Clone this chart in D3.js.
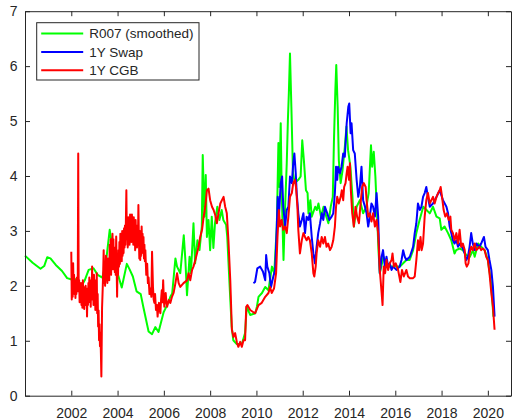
<!DOCTYPE html>
<html>
<head>
<meta charset="utf-8">
<script src="https://cdn.jsdelivr.net/npm/d3@7"></script>
<style>
  body { margin: 0; background: #fff; }
  svg text { font-family: "Liberation Sans", Arial, Helvetica, sans-serif; fill: #262626; }
</style>
</head>
<body>
<div id="chart"></div>
<script>
// R007 (smoothed), [decimal year, %]
const r007 = [
  [2000.00,2.55],[2000.33,2.42],[2000.67,2.31],[2000.83,2.36],[2000.96,2.52],[2001.10,2.50],
  [2001.33,2.38],[2001.60,2.27],[2001.82,2.14],[2001.98,2.12],[2002.23,2.12],[2002.39,1.96],
  [2002.58,2.10],[2002.75,2.29],[2002.96,2.32],[2003.14,2.20],[2003.34,2.15],[2003.49,2.40],
  [2003.66,3.02],[2003.76,2.75],[2003.96,2.29],[2004.18,1.97],[2004.40,2.40],[2004.52,2.30],
  [2004.66,2.17],[2004.82,1.90],[2005.00,1.85],[2005.12,1.60],[2005.34,1.17],[2005.49,1.12],
  [2005.63,1.25],[2005.77,1.16],[2005.99,1.52],[2006.14,1.65],[2006.28,1.80],[2006.36,1.86],
  [2006.50,2.50],[2006.57,2.35],[2006.71,2.23],[2006.86,2.92],[2006.93,2.47],[2007.00,1.83],
  [2007.11,2.53],[2007.17,2.23],[2007.28,3.14],[2007.35,2.41],[2007.45,2.83],[2007.54,2.65],
  [2007.64,3.08],[2007.68,4.38],[2007.75,3.26],[2007.81,4.02],[2007.86,2.89],[2007.93,3.20],
  [2008.00,2.65],[2008.07,3.26],[2008.14,2.69],[2008.21,3.14],[2008.31,3.44],[2008.40,3.20],
  [2008.50,3.38],[2008.57,3.20],[2008.69,3.11],[2008.74,2.89],[2008.83,2.10],[2008.93,1.26],
  [2009.00,1.01],[2009.15,0.94],[2009.37,0.94],[2009.51,1.14],[2009.58,1.62],[2009.73,1.47],
  [2009.95,1.50],[2010.02,1.62],[2010.09,1.80],[2010.24,1.87],[2010.38,1.98],[2010.52,1.92],
  [2010.67,2.35],[2010.77,2.23],[2010.88,3.08],[2010.95,4.60],[2010.99,3.80],[2011.05,4.96],
  [2011.09,3.74],[2011.17,2.47],[2011.24,3.44],[2011.31,4.23],[2011.36,5.02],[2011.40,5.50],
  [2011.45,6.23],[2011.51,5.26],[2011.58,4.05],[2011.66,3.87],[2011.81,3.93],[2011.91,3.99],
  [2011.98,4.65],[2012.05,4.29],[2012.14,3.74],[2012.21,3.69],[2012.25,3.32],[2012.33,3.56],
  [2012.39,3.26],[2012.54,3.44],[2012.61,3.38],[2012.68,3.50],[2012.79,3.26],[2012.90,3.44],
  [2013.02,3.26],[2013.11,3.14],[2013.21,3.44],[2013.30,3.62],[2013.35,4.65],[2013.41,5.56],
  [2013.45,6.02],[2013.51,5.26],[2013.56,4.29],[2013.64,3.87],[2013.72,4.10],[2013.82,4.53],
  [2013.89,4.90],[2013.96,4.47],[2014.06,4.17],[2014.15,3.62],[2014.21,3.08],[2014.33,3.44],
  [2014.47,3.56],[2014.61,3.32],[2014.75,3.44],[2014.85,3.69],[2014.95,4.56],[2015.00,4.17],
  [2015.07,4.44],[2015.14,3.99],[2015.21,3.32],[2015.28,2.60],[2015.33,2.23],[2015.49,2.53],
  [2015.62,2.41],[2015.76,2.35],[2015.98,2.35],[2016.20,2.35],[2016.34,2.41],[2016.48,2.47],
  [2016.62,2.47],[2016.77,2.65],[2016.91,2.96],[2017.05,3.20],[2017.21,3.44],[2017.35,3.38],
  [2017.49,3.32],[2017.63,3.44],[2017.78,3.26],[2017.92,3.23],[2017.99,3.02],[2018.13,3.08],
  [2018.28,2.96],[2018.42,2.83],[2018.56,2.59],[2018.63,2.65],[2018.78,2.68],[2018.92,2.65],
  [2019.07,2.56],[2019.22,2.53],[2019.36,2.65],[2019.43,2.53],[2019.58,2.77],[2019.72,2.71],
  [2019.86,2.65],[2020.00,2.47],[2020.14,2.05],[2020.24,1.44]
];

// 1Y Swap
const swap1y = [
  [2009.87,2.05],[2009.94,2.07],[2010.04,2.32],[2010.16,2.35],[2010.28,2.26],[2010.38,2.10],
  [2010.42,2.56],[2010.47,2.35],[2010.56,2.23],[2010.63,1.98],[2010.73,2.17],[2010.81,2.29],
  [2010.88,3.08],[2010.92,3.62],[2010.98,3.32],[2011.05,3.87],[2011.11,3.99],[2011.16,3.44],
  [2011.24,3.08],[2011.31,3.38],[2011.38,3.44],[2011.45,3.99],[2011.53,3.87],[2011.59,4.23],
  [2011.64,4.41],[2011.70,4.05],[2011.74,3.69],[2011.81,3.32],[2011.88,3.08],[2011.96,3.20],
  [2012.03,3.32],[2012.10,2.96],[2012.17,3.26],[2012.24,3.20],[2012.31,3.32],[2012.39,2.89],
  [2012.46,2.59],[2012.53,2.41],[2012.60,2.71],[2012.67,2.96],[2012.75,3.14],[2012.82,3.32],
  [2012.89,3.20],[2012.96,3.44],[2013.06,3.32],[2013.15,3.20],[2013.25,3.26],[2013.32,3.32],
  [2013.39,3.69],[2013.44,4.17],[2013.49,3.93],[2013.53,4.17],[2013.61,4.05],[2013.68,4.17],
  [2013.75,4.41],[2013.82,4.35],[2013.90,4.96],[2013.97,5.26],[2014.01,5.32],[2014.07,4.78],
  [2014.11,4.96],[2014.18,4.47],[2014.25,4.41],[2014.33,3.93],[2014.40,3.62],[2014.47,3.80],
  [2014.54,4.17],[2014.61,3.56],[2014.69,3.44],[2014.76,3.32],[2014.83,3.08],[2014.90,3.26],
  [2014.97,3.50],[2015.04,3.44],[2015.12,3.26],[2015.19,3.69],[2015.26,3.26],[2015.33,2.23],
  [2015.41,2.53],[2015.47,2.65],[2015.55,2.35],[2015.62,2.53],[2015.69,2.35],[2015.76,2.41],
  [2015.84,2.29],[2015.91,2.35],[2016.05,2.29],[2016.19,2.35],[2016.27,2.47],[2016.34,2.65],
  [2016.41,2.53],[2016.48,2.47],[2016.63,2.53],[2016.77,2.71],[2016.84,2.96],[2016.91,3.14],
  [2016.98,3.50],[2017.06,3.38],[2017.13,3.44],[2017.20,3.62],[2017.27,3.69],[2017.34,3.80],
  [2017.41,3.62],[2017.49,3.44],[2017.63,3.50],[2017.78,3.62],[2017.92,3.74],[2018.06,3.56],
  [2018.21,3.44],[2018.28,3.32],[2018.35,3.08],[2018.42,2.96],[2018.49,2.83],[2018.56,2.77],
  [2018.64,2.83],[2018.71,2.71],[2018.78,2.77],[2018.92,2.68],[2019.00,2.59],[2019.07,2.47],
  [2019.14,2.53],[2019.21,2.71],[2019.28,2.96],[2019.35,2.77],[2019.43,2.65],[2019.50,2.77],
  [2019.64,2.71],[2019.71,2.77],[2019.83,2.89],[2019.90,2.71],[2020.00,2.65],[2020.07,2.47],
  [2020.15,2.29],[2020.22,1.98],[2020.29,1.44]
];

// 1Y CGB
const cgb1y = [
  [2002.00,2.62],[2002.02,1.75],[2002.04,2.25],[2002.06,1.80],[2002.08,2.41],[2002.10,1.95],
  [2002.12,2.20],[2002.14,1.85],[2002.16,2.10],[2002.18,1.78],[2002.20,2.05],[2002.22,1.85],
  [2002.24,2.15],[2002.26,1.90],[2002.28,2.05],[2002.30,4.41],[2002.32,1.90],[2002.34,2.10],
  [2002.36,1.70],[2002.38,1.95],[2002.40,1.80],[2002.42,2.05],[2002.44,1.65],[2002.46,1.95],
  [2002.48,1.60],[2002.50,2.10],[2002.52,1.75],[2002.54,1.98],[2002.56,1.58],[2002.58,1.90],
  [2002.60,1.65],[2002.62,2.00],[2002.64,1.70],[2002.66,1.95],[2002.68,1.44],[2002.70,1.85],
  [2002.72,1.65],[2002.74,2.05],[2002.76,1.75],[2002.78,2.15],[2002.80,1.70],[2002.82,2.00],
  [2002.84,1.62],[2002.86,2.10],[2002.88,1.80],[2002.90,2.35],[2002.92,1.75],[2002.94,2.05],
  [2002.96,1.65],[2002.98,2.20],[2003.00,1.80],[2003.02,2.05],[2003.04,1.56],[2003.06,2.10],
  [2003.08,1.70],[2003.10,2.23],[2003.12,1.50],[2003.14,1.85],[2003.16,1.26],[2003.18,1.55],
  [2003.20,1.01],[2003.22,1.30],[2003.24,0.90],[2003.26,1.15],[2003.28,0.77],[2003.30,0.35],
  [2003.33,1.60],[2003.36,1.98],[2003.38,2.30],[2003.40,2.65],[2003.42,2.05],[2003.44,2.40],
  [2003.46,2.00],[2003.48,2.25],[2003.50,2.55],[2003.52,2.10],[2003.54,2.35],[2003.56,2.05],
  [2003.58,2.50],[2003.60,2.15],[2003.62,2.45],[2003.64,2.10],[2003.66,2.75],[2003.68,2.30],
  [2003.70,2.85],[2003.72,2.20],[2003.74,2.55],[2003.76,2.30],[2003.78,2.95],[2003.80,2.40],
  [2003.82,2.85],[2003.84,2.30],[2003.86,2.70],[2003.88,2.25],[2003.90,2.60],[2003.92,2.20],
  [2003.94,2.90],[2003.96,2.35],[2003.98,1.80],[2004.00,2.40],[2004.02,2.20],[2004.04,2.65],
  [2004.06,2.35],[2004.08,2.80],[2004.10,2.40],[2004.12,2.95],[2004.14,2.50],[2004.16,2.85],
  [2004.18,2.45],[2004.20,3.00],[2004.22,2.55],[2004.24,2.90],[2004.26,2.60],[2004.28,3.05],
  [2004.30,2.70],[2004.32,3.10],[2004.34,2.75],[2004.36,3.20],[2004.38,3.74],[2004.40,2.85],
  [2004.42,3.10],[2004.44,2.70],[2004.46,3.25],[2004.48,2.85],[2004.50,3.15],[2004.52,2.75],
  [2004.54,3.30],[2004.56,2.90],[2004.58,3.20],[2004.60,2.80],[2004.62,3.30],[2004.64,2.95],
  [2004.66,3.15],[2004.68,2.75],[2004.70,3.25],[2004.72,2.90],[2004.74,3.05],[2004.76,2.65],
  [2004.78,3.20],[2004.80,2.85],[2004.82,3.00],[2004.84,2.70],[2004.86,3.10],[2004.88,2.80],
  [2004.90,3.47],[2004.92,2.90],[2004.94,2.50],[2004.96,3.00],[2004.98,2.47],[2005.00,2.80],
  [2005.02,2.55],[2005.04,3.08],[2005.06,2.70],[2005.08,2.95],[2005.10,2.60],[2005.12,2.89],
  [2005.14,2.50],[2005.16,2.75],[2005.18,2.45],[2005.20,2.65],[2005.24,2.20],[2005.28,2.40],
  [2005.31,2.05],[2005.34,2.15],[2005.38,1.85],[2005.42,1.95],[2005.46,1.80],[2005.49,2.62],
  [2005.53,1.98],[2005.56,1.75],[2005.59,1.69],[2005.62,1.85],[2005.66,1.56],[2005.70,1.65],
  [2005.73,1.44],[2005.76,1.60],[2005.79,1.69],[2005.82,1.55],[2005.85,1.50],[2005.88,1.75],
  [2005.91,1.92],[2005.94,1.70],[2005.97,2.10],[2006.00,1.75],[2006.02,1.62],[2006.05,1.80],
  [2006.08,1.87],[2006.11,1.70],[2006.14,1.62],[2006.21,1.74],
  [2006.28,1.69],[2006.35,1.80],[2006.42,1.87],[2006.50,2.05],[2006.57,2.23],[2006.64,2.05],
  [2006.71,1.98],[2006.85,2.05],[2007.00,2.10],[2007.07,2.23],[2007.14,2.10],[2007.22,2.29],
  [2007.28,2.35],[2007.36,2.47],[2007.43,2.59],[2007.50,2.71],[2007.57,2.89],[2007.65,3.02],
  [2007.72,3.26],[2007.79,3.44],[2007.86,3.74],[2007.93,3.77],[2008.00,3.56],[2008.08,3.44],
  [2008.15,3.38],[2008.22,3.29],[2008.29,3.14],[2008.36,3.32],[2008.44,3.50],[2008.51,3.56],
  [2008.58,3.62],[2008.65,3.44],[2008.72,3.32],[2008.79,2.83],[2008.87,2.10],[2008.94,1.20],
  [2009.01,1.07],[2009.08,1.14],[2009.16,0.96],[2009.22,0.89],[2009.30,0.98],[2009.37,0.89],
  [2009.44,1.01],[2009.51,1.01],[2009.56,1.62],[2009.61,1.65],[2009.73,1.56],[2009.87,1.52],
  [2009.94,1.50],[2010.09,1.65],[2010.23,1.69],[2010.38,1.80],[2010.52,1.87],[2010.59,1.98],
  [2010.66,1.87],[2010.76,1.95],[2010.85,2.23],[2010.91,2.89],[2010.97,3.38],[2011.02,3.08],
  [2011.09,3.20],[2011.16,3.02],[2011.24,3.08],[2011.31,2.96],[2011.38,3.26],[2011.45,3.62],
  [2011.53,3.69],[2011.59,3.87],[2011.66,3.93],[2011.71,3.80],[2011.77,3.44],[2011.81,3.02],
  [2011.88,2.59],[2011.96,2.83],[2012.03,2.96],[2012.10,2.89],[2012.17,2.83],[2012.24,2.89],
  [2012.31,2.83],[2012.39,2.59],[2012.46,2.23],[2012.50,2.17],[2012.56,2.35],[2012.60,2.59],
  [2012.67,2.83],[2012.75,2.71],[2012.82,2.89],[2012.89,2.77],[2012.96,2.89],[2013.03,2.71],
  [2013.10,2.77],[2013.18,2.65],[2013.25,2.71],[2013.32,2.83],[2013.39,3.08],[2013.44,3.44],
  [2013.49,3.62],[2013.56,3.50],[2013.64,3.62],[2013.69,3.74],[2013.75,3.56],[2013.79,3.80],
  [2013.85,3.87],[2013.90,4.05],[2013.94,4.17],[2014.00,3.93],[2014.04,4.23],[2014.08,3.74],
  [2014.14,3.32],[2014.21,3.08],[2014.28,3.44],[2014.35,3.26],[2014.43,3.14],[2014.50,3.50],
  [2014.57,3.80],[2014.64,3.87],[2014.72,3.80],[2014.76,3.56],[2014.83,3.26],[2014.90,3.32],
  [2014.97,3.17],[2015.04,3.32],[2015.12,3.08],[2015.19,3.20],[2015.26,2.96],[2015.33,2.29],
  [2015.41,1.87],[2015.45,1.65],[2015.50,2.35],[2015.56,2.23],[2015.62,2.47],[2015.69,2.29],
  [2015.76,2.41],[2015.84,2.47],[2015.88,2.59],[2015.94,2.35],[2016.02,2.41],[2016.12,2.29],
  [2016.22,2.07],[2016.29,2.29],[2016.37,2.17],[2016.48,2.29],[2016.55,2.17],[2016.63,2.14],
  [2016.77,2.14],[2016.84,2.17],[2016.91,2.47],[2016.98,2.83],[2017.03,2.65],[2017.09,2.89],
  [2017.14,2.65],[2017.20,2.77],[2017.27,3.26],[2017.34,3.56],[2017.41,3.69],[2017.49,3.50],
  [2017.56,3.56],[2017.63,3.62],[2017.70,3.50],[2017.78,3.62],[2017.85,3.69],[2017.92,3.74],
  [2017.96,3.80],[2018.02,3.62],[2018.09,3.38],[2018.16,3.26],[2018.23,3.32],[2018.31,3.20],
  [2018.38,3.26],[2018.42,3.02],[2018.49,2.96],[2018.56,2.83],[2018.64,2.96],[2018.71,2.77],
  [2018.78,3.02],[2018.85,2.71],[2018.92,2.77],[2019.00,2.65],[2019.04,2.41],[2019.09,2.35],
  [2019.16,2.41],[2019.21,2.59],[2019.28,2.71],[2019.35,2.65],[2019.43,2.77],[2019.50,2.65],
  [2019.57,2.68],[2019.64,2.71],[2019.71,2.65],[2019.78,2.68],[2019.86,2.65],[2019.93,2.53],
  [2020.00,2.47],[2020.07,2.23],[2020.15,1.87],[2020.22,1.62],[2020.29,1.20]
];

const seriesNames = ["R007 (smoothed)", "1Y Swap", "1Y CGB"];
const seriesColors = ["#00ff00", "#0000ff", "#ff0000"];
const xTicks = [2002, 2004, 2006, 2008, 2010, 2012, 2014, 2016, 2018, 2020];
const yTicks = [0, 1, 2, 3, 4, 5, 6, 7];

const svgWidth = 512, svgHeight = 420;
const margin = { top: 11.2, right: 1, bottom: 24.3, left: 25 };
const width = svgWidth - margin.left - margin.right,
      height = svgHeight - margin.top - margin.bottom;

const svg = d3.select("#chart").append("svg")
    .attr("width", svgWidth)
    .attr("height", svgHeight)
  .append("g")
    .attr("transform", "translate(" + margin.left + "," + margin.top + ")");

const x = d3.scaleLinear().domain([2000, 2021]).range([0, width]);
const y = d3.scaleLinear().domain([0, 7]).range([height, 0]);

function styleAxis(g) {
  g.selectAll("path").attr("stroke", "#262626").attr("stroke-width", 1);
  g.selectAll("line").attr("stroke", "#262626").attr("stroke-width", 1);
  g.selectAll("text").style("font-size", "14px").attr("fill", "#262626");
}

// lines
const line = d3.line().x(d => x(d[0])).y(d => y(d[1]));
[r007, swap1y, cgb1y].forEach((s, i) => {
  svg.append("path")
    .datum(s)
    .attr("fill", "none")
    .attr("stroke", seriesColors[i])
    .attr("stroke-width", 2)
    .attr("stroke-linejoin", "round")
    .attr("d", line);
});

svg.append("g")
    .attr("transform", "translate(0," + height + ")")
    .call(d3.axisBottom(x).tickValues(xTicks).tickFormat(d3.format("d"))
      .tickSizeInner(-5).tickSizeOuter(0).tickPadding(12))
    .call(styleAxis)
    .call(g => g.selectAll("text").attr("dy", "0.71em"));

svg.append("g")
    .call(d3.axisTop(x).tickValues(xTicks).tickFormat("")
      .tickSizeInner(-5).tickSizeOuter(0))
    .call(styleAxis);

svg.append("g")
    .call(d3.axisLeft(y).tickValues(yTicks).tickFormat(d3.format("d"))
      .tickSizeInner(-5).tickSizeOuter(0).tickPadding(7.5))
    .call(styleAxis);

svg.append("g")
    .attr("transform", "translate(" + width + ",0)")
    .call(d3.axisRight(y).tickValues(yTicks).tickFormat("")
      .tickSizeInner(-5).tickSizeOuter(0))
    .call(styleAxis);

// legend
const legend = svg.append("g").attr("transform", "translate(11.7,11.5)");
legend.append("rect")
    .attr("width", 162.3).attr("height", 57.3)
    .attr("fill", "#fff").attr("stroke", "#262626").attr("stroke-width", 1);
seriesNames.forEach((name, i) => {
  const yy = 10.8 + i * 18.4;
  legend.append("line")
    .attr("x1", 4.5).attr("x2", 46.5).attr("y1", yy).attr("y2", yy)
    .attr("stroke", seriesColors[i]).attr("stroke-width", 2);
  legend.append("text")
    .attr("x", 52.5).attr("y", yy).attr("dy", "0.35em")
    .style("font-size", "13.5px")
    .text(name);
});
</script>
</body>
</html>
